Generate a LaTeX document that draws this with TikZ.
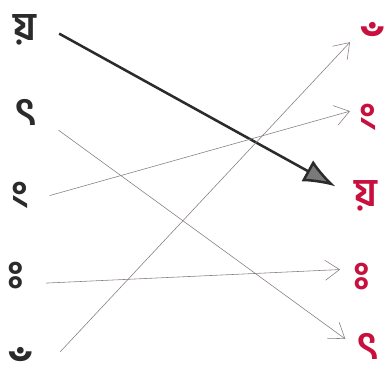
\documentclass[tikz,border=0pt]{standalone}
\usepackage{fontspec}
\usetikzlibrary{arrows.meta}
\newfontfamily\bnfont[Script=Bengali]{Hind Siliguri}
% a lone sign, set by its glyph so that no dotted circle is added
\newcommand{\bnsign}[1]{\XeTeXglyph\XeTeXcharglyph"#1\relax}
\definecolor{ink}{HTML}{2B2B2B}
\definecolor{pencil}{HTML}{857B7D}
\definecolor{crimson}{HTML}{C8103E}
\definecolor{headgray}{HTML}{7A7A7A}
\tikzset{
  srcglyph/.style={
    inner sep=1pt,
    text=ink,
    font=\bnfont\bfseries\fontsize{28}{32}\selectfont
  },
  dstglyph/.style={
    inner sep=1pt,
    text=crimson,
    font=\bnfont\bfseries\fontsize{28}{32}\selectfont
  },
  cbglyph/.style={font=\bnfont\bfseries\fontsize{44}{50}\selectfont},
  pairline/.style={-{Straight Barb[length=3.6mm,width=5mm]},thin,draw=pencil},
  mainline/.style={-{Latex[length=8mm,width=6mm,fill=headgray]},line width=1.8pt,draw=ink}
}

\begin{document}
\begin{tikzpicture}[x=0.025cm,y=-0.025cm]
  \useasboundingbox (0,0) rectangle (388,382);

  \node[srcglyph] (lya) at (25,30) {য়};
  \node[srcglyph] (lta) at (26,112) {ৎ};
  \node[srcglyph] (lng) at (20,195) {\bnsign{0982}};
  \node[srcglyph] (lvs) at (16,276) {\bnsign{0983}};
  \node[srcglyph,cbglyph] (lcb) at (28,376) {\bnsign{0981}};

  \node[dstglyph,cbglyph] (rcb) at (380,51) {\bnsign{0981}};
  \node[dstglyph] (rng) at (368,117) {\bnsign{0982}};
  \node[dstglyph] (rya) at (366,196) {য়};
  \node[dstglyph] (rvs) at (362,277) {\bnsign{0983}};
  \node[dstglyph] (rta) at (368,346) {ৎ};

  \draw[mainline,shorten <=0.6cm,shorten >=0.5cm] ([yshift=0.2cm]lya.east) -- (rya.west);
  \draw[pairline,shorten <=0.6cm,shorten >=0.3cm] ([yshift=-0.1cm]lta.east) -- (rta.west);
  \draw[pairline,shorten <=0.5cm,shorten >=0.2cm] ([yshift=-0.15cm]lng.east) -- ([yshift=0.2cm]rng.west);
  \draw[pairline,shorten <=0.5cm,shorten >=0.3cm] ([yshift=-0.2cm]lvs.east) -- ([yshift=0.2cm]rvs.west);
  \draw[pairline] ([xshift=0.8cm,yshift=0.6cm]lcb.center) -- ([xshift=-0.75cm,yshift=0.22cm]rcb.center);
\end{tikzpicture}
\end{document}
